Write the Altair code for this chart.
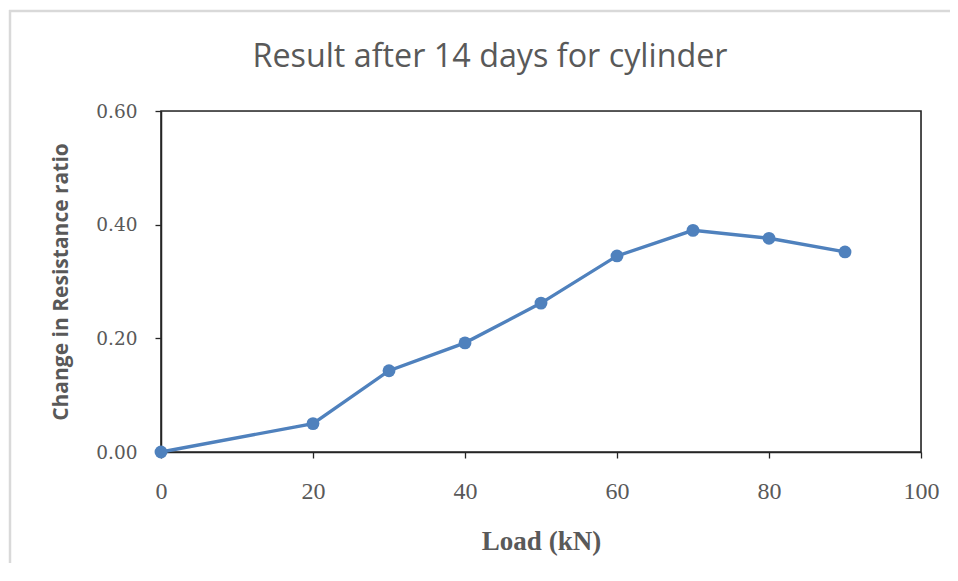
import altair as alt
import pandas as pd

load_kn = [0, 20, 30, 40, 50, 60, 70, 80, 90]
resistance_ratio = [0.0, 0.050, 0.143, 0.192, 0.262, 0.345, 0.390, 0.376, 0.352]
x_ticks = [0, 20, 40, 60, 80, 100]
y_ticks = [0.0, 0.2, 0.4, 0.6]
title_text = "Result after 14 days for cylinder"

df = pd.DataFrame({"load": load_kn, "ratio": resistance_ratio})

W, H = 760, 341
L, T = 153, 103
TOTAL_W, TOTAL_H = 942, 555

x_enc = alt.X("load:Q", scale=alt.Scale(domain=[0, 100], nice=False),
              axis=alt.Axis(values=x_ticks, title="Load (kN)", grid=False, labelFlush=False,
                            domainColor="#262626", domainWidth=1.5, tickColor="#262626",
                            tickWidth=1.3, tickSize=6,
                            labelFont="Liberation Serif", labelFontSize=24, labelColor="#595959",
                            labelPadding=21, titleFont="Liberation Serif", titleFontSize=27,
                            titleFontWeight="bold", titleColor="#595959", titlePadding=25))
y_enc = alt.Y("ratio:Q", scale=alt.Scale(domain=[0, 0.6], nice=False),
              axis=alt.Axis(values=y_ticks, format=".2f", title="Change in Resistance ratio",
                            grid=False, domainColor="#262626", domainWidth=1.5,
                            tickColor="#262626", tickWidth=1.3, tickSize=6,
                            labelFont="DejaVu Serif", labelFontSize=18.5, labelColor="#595959",
                            labelPadding=18, titleFont="Open Sans", titleFontSize=21,
                            titleFontWeight="bold", titleColor="#595959", titlePadding=24))

one = pd.DataFrame({"t": [title_text]})

border_top = alt.Chart(one).mark_rule(color="#d9d9d9", strokeWidth=2.5, clip=False).encode(
    x=alt.value(9 - 161), x2=alt.value(TOTAL_W - L + 20), y=alt.value(11 - 111))
border_left = alt.Chart(one).mark_rule(color="#d9d9d9", strokeWidth=2.5, clip=False).encode(
    x=alt.value(10 - 161), y=alt.value(10 - 111), y2=alt.value(TOTAL_H - T + 20))

frame = alt.Chart(one).mark_rect(fill=None, stroke="#262626", strokeWidth=1.6).encode(
    x=alt.value(0), x2=alt.value(W), y=alt.value(0), y2=alt.value(H))

title = alt.Chart(one).mark_text(
    font="Open Sans", fontSize=32.3, color="#595959", align="center", baseline="middle"
).encode(text="t:N", x=alt.value(490 - 161), y=alt.value(57 - 111))

line = alt.Chart(df).mark_line(color="#4F81BD", strokeWidth=3.4).encode(x=x_enc, y=y_enc)
pts = alt.Chart(df).mark_circle(color="#4F81BD", size=165, opacity=1).encode(x="load:Q", y="ratio:Q")

chart = alt.layer(border_top, border_left, frame, title, line, pts).properties(
    width=W, height=H,
    autosize=alt.AutoSizeParams(type="none"),
    padding={"left": L, "top": T, "right": TOTAL_W - L - W, "bottom": TOTAL_H - T - H},
).configure_view(stroke=None).configure(background="white")

chart.save("out.html", embed_options={"renderer": "svg", "actions": False})
